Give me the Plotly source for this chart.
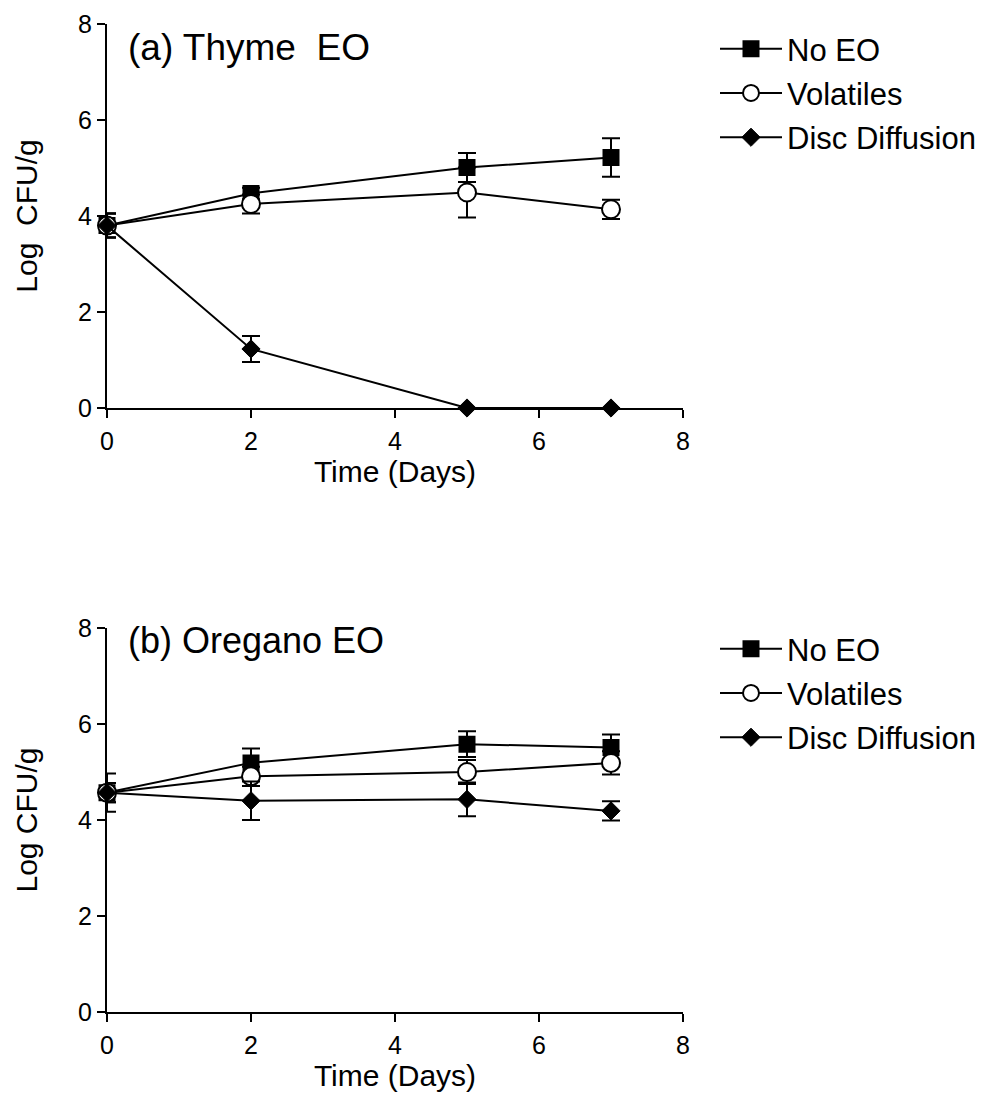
import plotly.graph_objects as go

days = [0, 2, 5, 7]
series_names = ["No EO", "Volatiles", "Disc Diffusion"]

# (a) Thyme EO
thyme_no_eo = [3.8, 4.47, 5.01, 5.22]
thyme_no_eo_err = [0.25, 0.12, 0.3, 0.4]
thyme_vol = [3.8, 4.25, 4.49, 4.14]
thyme_vol_err = [0.25, 0.2, 0.52, 0.2]
thyme_disc = [3.8, 1.23, 0.0, 0.0]
thyme_disc_err = [0.25, 0.27, 0.0, 0.0]

# (b) Oregano EO
oreg_no_eo = [4.57, 5.19, 5.58, 5.51]
oreg_no_eo_err = [0.4, 0.3, 0.27, 0.27]
oreg_vol = [4.57, 4.91, 5.0, 5.19]
oreg_vol_err = [0.2, 0.2, 0.25, 0.24]
oreg_disc = [4.57, 4.40, 4.43, 4.19]
oreg_disc_err = [0.2, 0.4, 0.35, 0.2]

tick_vals = [0, 2, 4, 6, 8]
panel_titles = ["(a) Thyme\u00a0\u00a0EO", "(b) Oregano EO"]
y_titles = ["Log\u00a0\u00a0CFU/g", "Log CFU/g"]
x_title = "Time (Days)"

W, H = 990, 1097
FONT = "Liberation Sans, Arial, sans-serif"

fig = go.Figure()

styles = [
    dict(symbol="square", size=15, color="black", line=dict(color="black", width=2)),
    dict(symbol="circle", size=18, color="white", line=dict(color="black", width=2)),
    dict(symbol="diamond", size=14, color="black", line=dict(color="black", width=1)),
]

panels = [
    ([thyme_no_eo, thyme_vol, thyme_disc], [thyme_no_eo_err, thyme_vol_err, thyme_disc_err], "x", "y", "legend"),
    ([oreg_no_eo, oreg_vol, oreg_disc], [oreg_no_eo_err, oreg_vol_err, oreg_disc_err], "x2", "y2", "legend2"),
]

for p, (vals, errs, xa, ya, leg) in enumerate(panels):
    for i in range(3):
        fig.add_trace(go.Scatter(
            x=days, y=vals[i], mode="lines+markers", name=series_names[i],
            xaxis=xa, yaxis=ya, legend=leg, legendgroup=f"p{p}s{i}",
            line=dict(color="black", width=2),
            marker=styles[i],
            error_y=dict(type="data", array=errs[i], visible=True, color="black", thickness=2, width=9),
            cliponaxis=False,
        ))

# domains in pixels
x0, x1 = 107, 683
top_y = (24, 408)
bot_y = (628, 1012)

def ydom(t, b):
    return [1 - b / H, 1 - t / H]

axis_common = dict(
    showline=True, linecolor="black", linewidth=2, ticks="outside", ticklen=8, tickwidth=2,
    tickcolor="black", showgrid=False, zeroline=False, tickvals=tick_vals, automargin=False,
    tickfont=dict(family=FONT, size=25, color="black"), range=[0, 8],
    title_font=dict(family=FONT, size=30, color="black"),
)

leg_common = dict(xanchor="left", yanchor="top", itemwidth=62,
                  font=dict(family=FONT, size=31, color="black"), tracegroupgap=1,
                  bgcolor="rgba(0,0,0,0)", borderwidth=0)

fig.update_layout(
    width=W, height=H, margin=dict(l=0, r=0, t=0, b=0, autoexpand=False),
    paper_bgcolor="white", plot_bgcolor="white",
    font=dict(family=FONT, color="black"),
    xaxis=dict(domain=[x0 / W, x1 / W], anchor="y", ticklabelstandoff=2,
               title=dict(text=x_title, standoff=0), **axis_common),
    yaxis=dict(domain=ydom(*top_y), anchor="x", title=dict(text=y_titles[0], standoff=32), **axis_common),
    xaxis2=dict(domain=[x0 / W, x1 / W], anchor="y2", ticklabelstandoff=2,
                title=dict(text=x_title, standoff=7), **axis_common),
    yaxis2=dict(domain=ydom(*bot_y), anchor="x2", title=dict(text=y_titles[1], standoff=32), **axis_common),
    legend=dict(x=715 / W, y=1 - 22 / H, **leg_common),
    legend2=dict(x=715 / W, y=1 - 622 / H, **leg_common),
    annotations=[
        dict(text=panel_titles[0], x=126 / W, y=1 - 48 / H, xref="paper", yref="paper",
             xanchor="left", yanchor="middle", showarrow=False,
             font=dict(family=FONT, size=37, color="black")),
        dict(text=panel_titles[1], x=126 / W, y=1 - 640 / H, xref="paper", yref="paper",
             xanchor="left", yanchor="middle", showarrow=False,
             font=dict(family=FONT, size=36, color="black")),
    ],
)

fig.write_html("out.html")
